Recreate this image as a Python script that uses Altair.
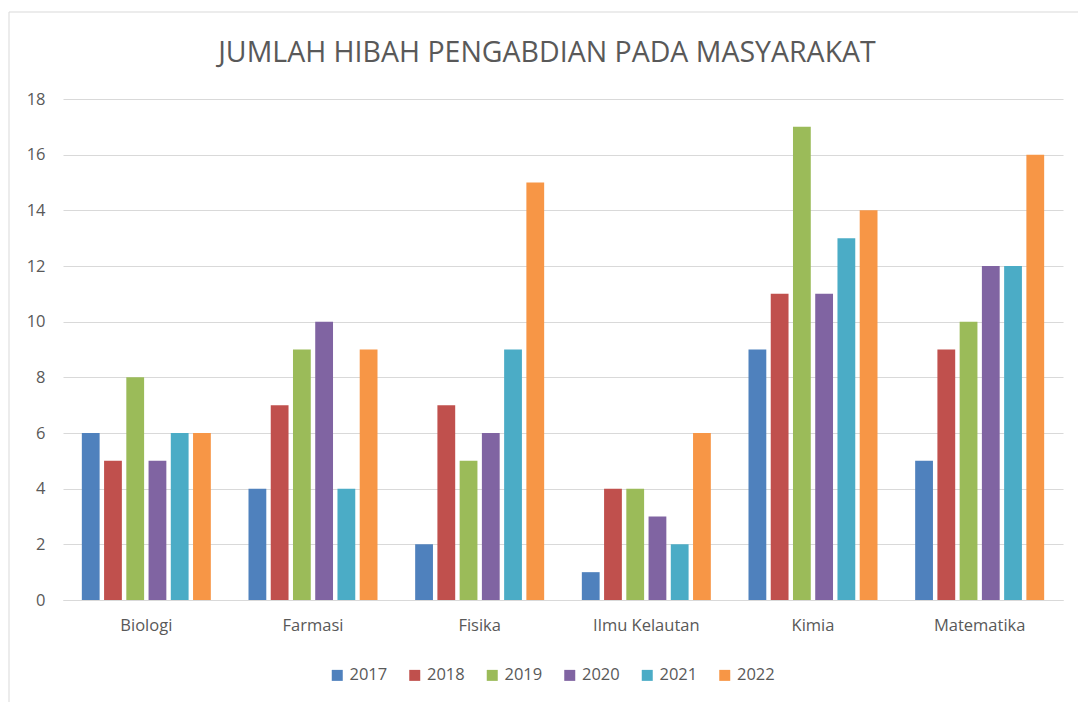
import altair as alt
import pandas as pd

title_text = "JUMLAH HIBAH PENGABDIAN PADA MASYARAKAT"
categories = ["Biologi", "Farmasi", "Fisika", "Ilmu Kelautan", "Kimia", "Matematika"]
years = ["2017", "2018", "2019", "2020", "2021", "2022"]
values = {
    "2017": [6, 4, 2, 1, 9, 5],
    "2018": [5, 7, 7, 4, 11, 9],
    "2019": [8, 9, 5, 4, 17, 10],
    "2020": [5, 10, 6, 3, 11, 12],
    "2021": [6, 4, 9, 2, 13, 12],
    "2022": [6, 9, 15, 6, 14, 16],
}
colors = ["#4F81BD", "#C0504D", "#9BBB59", "#8064A2", "#4BACC6", "#F79646"]

rows = []
for y in years:
    for c, v in zip(categories, values[y]):
        rows.append({"Prodi": c, "Tahun": y, "Jumlah": v})
df = pd.DataFrame(rows)

FONT = "Open Sans"
LBL = 16.5
W, H = 1000, 501

bars = alt.Chart(df).mark_bar().encode(
    x=alt.X("Prodi:N", sort=categories, title=None,
            scale=alt.Scale(paddingInner=0.226, paddingOuter=0.113),
            axis=alt.Axis(labelAngle=0, ticks=False, domain=True, domainColor="#d9d9d9",
                          labelPadding=17, labelFontSize=LBL, labelColor="#595959",
                          labelFont=FONT, grid=False)),
    xOffset=alt.XOffset("Tahun:N", sort=years, scale=alt.Scale(paddingInner=0.2)),
    y=alt.Y("Jumlah:Q", title=None,
            scale=alt.Scale(domain=[0, 18], nice=False),
            axis=alt.Axis(values=list(range(0, 19, 2)), ticks=False, domain=False,
                          gridColor="#d9d9d9", labelPadding=18, labelFontSize=LBL,
                          labelColor="#595959", labelFont=FONT)),
    color=alt.Color("Tahun:N", sort=years,
                    scale=alt.Scale(domain=years, range=colors),
                    legend=alt.Legend(title=None, orient="none", direction="horizontal",
                                      legendX=266, legendY=568, columns=6,
                                      symbolType="square", symbolSize=121,
                                      symbolStrokeWidth=0, labelFontSize=LBL,
                                      labelColor="#595959", labelFont=FONT,
                                      columnPadding=18.5, labelOffset=4)),
)

one = pd.DataFrame({"t": [title_text]})
border = alt.Chart(one).mark_rule(color="#d9d9d9", strokeWidth=1, clip=False)
left = border.encode(x=alt.value(-54), y=alt.value(-87), y2=alt.value(702 - 99))
top = border.encode(x=alt.value(-54), x2=alt.value(1078 - 63), y=alt.value(-87))

title = alt.Chart(one).mark_text(fontSize=28.5, font=FONT, color="#595959",
                                 align="center", baseline="middle", clip=False).encode(
    text="t:N", x=alt.value(547 - 63), y=alt.value(53 - 99))

chart = alt.layer(bars, left, top, title).properties(
    width=W, height=H,
    background="white",
    autosize=alt.AutoSizeParams(type="none"),
    padding={"left": 63, "top": 99, "right": 15, "bottom": 102},
).configure_view(stroke="transparent", strokeWidth=0)

chart.save("out.html", embed_options={"renderer": "svg", "actions": False})
